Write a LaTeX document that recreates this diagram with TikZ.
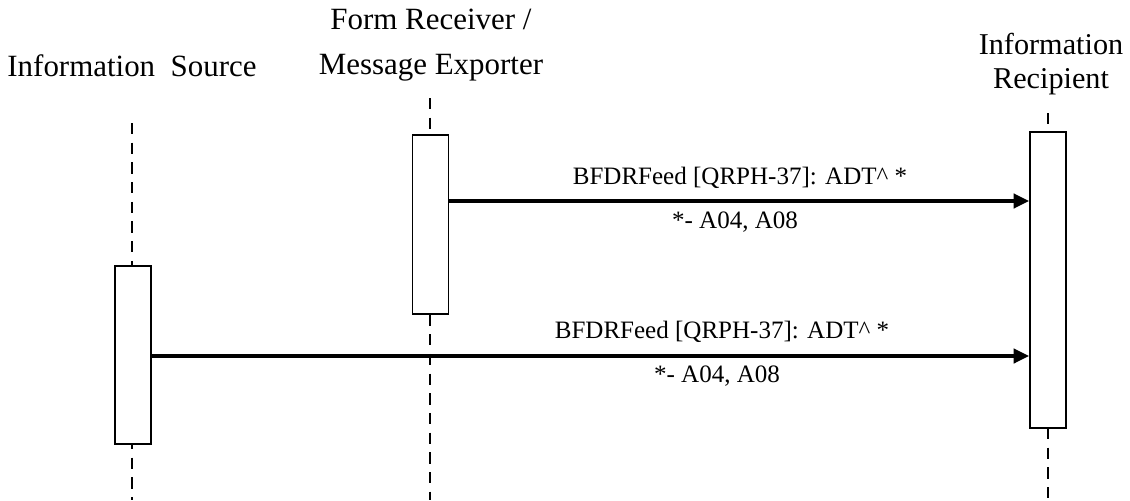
\documentclass[tikz,border=0pt]{standalone}
\usepackage{fontspec}
\setmainfont{Liberation Serif}
\usetikzlibrary{arrows.meta}

\begin{document}
\begin{tikzpicture}[x=0.025cm,y=-0.025cm,
  actor/.style={align=center,anchor=base,font=\fontsize{22}{31.3}\selectfont},
  bar/.style={draw,line width=1.3pt,fill=white,minimum width=25.5pt,inner sep=0pt},
  life/.style={line width=1.3pt,dash pattern=on 8pt off 6pt},
  msg/.style={line width=2.9pt,-{Triangle[length=11pt,width=10pt]}},
  lbl/.style={anchor=base,font=\fontsize{17.8}{22}\selectfont}]

\useasboundingbox (0,0) rectangle (1130,500);

% Actors
\node[actor] (src) at (132,76) {Information~ Source};
\node[actor] (frm) at (431,74) {Form Receiver /\\Message Exporter};
\node[actor,font=\fontsize{21.5}{23.5}\selectfont] (rcp) at (1051,88) {Information\\Recipient};

% Lifelines
\coordinate (srcend) at (132,500);
\coordinate (frmend) at (430,500);
\coordinate (rcpend) at (1048,500);
\draw[life] (132,123) -- (srcend);
\draw[life] (430,98) -- (frmend);
\draw[life] (1048,113) -- (rcpend);

% Activation bars
\node[bar,minimum height=127pt] (srcbar) at (133,355) {};
\node[bar,minimum height=127pt] (frmbar) at (430.5,224.5) {};
\node[bar,minimum height=211pt] (rcpbar) at (1048,280) {};

% Messages
\coordinate (m1) at (0,201);
\coordinate (m2) at (0,356);
\draw[msg] (frmbar.east |- m1) -- (rcpbar.west |- m1);
\node[lbl] (m1top) at (740,184) {BFDRFeed [QRPH-37]: ADT\^{} *};
\node[lbl] (m1bot) at (735,228) {*- A04, A08};
\draw[msg] (srcbar.east |- m2) -- (rcpbar.west |- m2);
\node[lbl] (m2top) at (722,338) {BFDRFeed [QRPH-37]: ADT\^{} *};
\node[lbl] (m2bot) at (717,382) {*- A04, A08};

\end{tikzpicture}
\end{document}
